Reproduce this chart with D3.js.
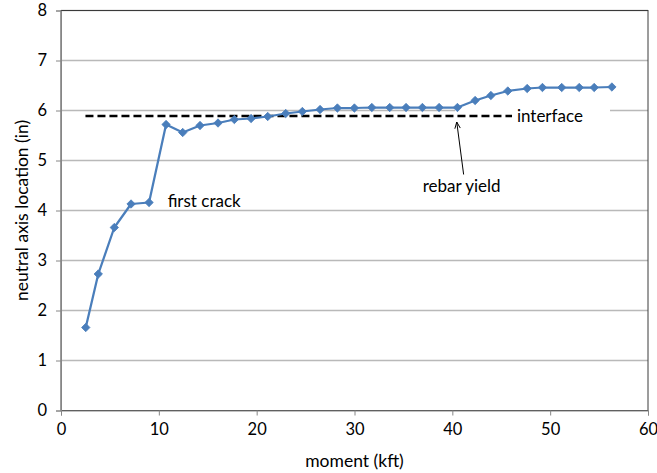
<!DOCTYPE html>
<html>
<head>
<meta charset="utf-8">
<script src="https://cdn.jsdelivr.net/npm/d3@7"></script>
<style>
  html, body { margin: 0; padding: 0; background: #fff; }
  svg { display: block; font-family: Lato, "Open Sans", sans-serif; }
</style>
</head>
<body>
<svg id="chart" width="657" height="473"></svg>
<script>
// Moment applied (kft)
const moment = [2.53, 3.81, 5.45, 7.16, 9.0, 10.74, 12.44, 14.21, 16.05, 17.72, 19.43, 21.13,
  22.97, 24.67, 26.48, 28.25, 29.99, 31.77, 33.6, 35.27, 36.94, 38.65, 40.52, 42.33, 43.94,
  45.67, 47.65, 49.21, 51.18, 52.97, 54.5, 56.31];
// Neutral axis depth (in)
const naLocation = [1.66, 2.73, 3.66, 4.13, 4.16, 5.72, 5.56, 5.70, 5.75, 5.82, 5.84, 5.88,
  5.94, 5.98, 6.02, 6.05, 6.05, 6.06, 6.06, 6.06, 6.06, 6.06, 6.06, 6.20, 6.30, 6.39,
  6.44, 6.46, 6.46, 6.46, 6.46, 6.47];
// Interface level between layers
const interfaceX = [2.5, 46.1];
const interfaceY = 5.89;
// Axis ticks
const xTicks = [0, 10, 20, 30, 40, 50, 60];
const yTicks = [0, 1, 2, 3, 4, 5, 6, 7, 8];
// Callout positions in data units
const firstCrack = { x: 10.9, y: 4.2, text: "first crack" };
const rebarYield = { x: 40.45, y: 5.85, labelX: 40.95, labelY: 4.9, text: "rebar yield" };
const interfaceLabel = { x: 46.6, y: 5.89, text: "interface" };

const svg = d3.select("#chart");
const mLeft = 61, mRight = 648, mTop = 10.5, mBottom = 410.5;

const x = d3.scaleLinear().domain([0, 60]).range([mLeft, mRight]);
const y = d3.scaleLinear().domain([0, 8]).range([mBottom, mTop]);

// Horizontal gridlines
svg.append("g")
  .selectAll("line")
  .data(yTicks.filter(d => d > 0))
  .join("line")
  .attr("x1", mLeft).attr("x2", mRight)
  .attr("y1", d => y(d)).attr("y2", d => y(d))
  .attr("stroke", "#b9b9b9").attr("stroke-width", 1.3);

// Plot area frame
svg.append("rect")
  .attr("x", mLeft).attr("y", mTop)
  .attr("width", mRight - mLeft).attr("height", mBottom - mTop)
  .attr("fill", "none").attr("stroke", "#3a3a3a").attr("stroke-width", 1);

// Axes
const xAxis = svg.append("g")
  .attr("transform", `translate(0,${mBottom})`)
  .call(d3.axisBottom(x).tickValues(xTicks).tickSize(5).tickPadding(8).tickFormat(d3.format("d")));
const yAxis = svg.append("g")
  .attr("transform", `translate(${mLeft},0)`)
  .call(d3.axisLeft(y).tickValues(yTicks).tickSize(5).tickPadding(9).tickFormat(d3.format("d")));
[xAxis, yAxis].forEach(g => {
  g.select(".domain").attr("stroke", "#868686").attr("stroke-width", 1);
  g.selectAll(".tick line").attr("stroke", "#868686");
  g.selectAll(".tick text").attr("fill", "#000").style("font-size", "16.5px")
    .style("font-family", "Lato, 'Open Sans', sans-serif");
});

// White box behind the interface label
svg.append("rect")
  .attr("x", 455).attr("y", y(interfaceY) - 12)
  .attr("width", 155).attr("height", 22)
  .attr("fill", "#fff");

// Interface dashed line
svg.append("line")
  .attr("x1", x(interfaceX[0])).attr("x2", x(interfaceX[1]))
  .attr("y1", y(interfaceY)).attr("y2", y(interfaceY))
  .attr("stroke", "#000").attr("stroke-width", 2.5)
  .attr("stroke-dasharray", "8,4");

svg.append("text")
  .attr("x", x(interfaceLabel.x)).attr("y", y(interfaceLabel.y) + 6)
  .style("font-size", "17px").text(interfaceLabel.text);

// Data series
const pts = moment.map((m, i) => [m, naLocation[i]]);
svg.append("path")
  .datum(pts)
  .attr("d", d3.line().x(d => x(d[0])).y(d => y(d[1])))
  .attr("fill", "none").attr("stroke", "#4a7ebb").attr("stroke-width", 2.25)
  .attr("stroke-linejoin", "round");

svg.append("g")
  .selectAll("path")
  .data(pts)
  .join("path")
  .attr("transform", d => `translate(${x(d[0])},${y(d[1])})`)
  .attr("d", "M0,-4.2L4.2,0L0,4.2L-4.2,0Z")
  .attr("fill", "#4a7ebb").attr("stroke", "#4a7ebb").attr("stroke-width", 0.8);

// Callouts
svg.append("text")
  .attr("x", x(firstCrack.x)).attr("y", y(firstCrack.y) + 6)
  .style("font-size", "17px").text(firstCrack.text);

const ax0 = x(rebarYield.labelX) + 2, ay0 = y(rebarYield.labelY) + 9;
const ax1 = x(rebarYield.x), ay1 = y(rebarYield.y) + 4;
svg.append("line")
  .attr("x1", ax0).attr("y1", ay0).attr("x2", ax1).attr("y2", ay1)
  .attr("stroke", "#000").attr("stroke-width", 1);
const ang = Math.atan2(ay0 - ay1, ax0 - ax1);
const hl = 7, spread = 0.4;
svg.append("path")
  .attr("d", `M${ax1 + hl * Math.cos(ang - spread)},${ay1 + hl * Math.sin(ang - spread)}L${ax1},${ay1}L${ax1 + hl * Math.cos(ang + spread)},${ay1 + hl * Math.sin(ang + spread)}`)
  .attr("fill", "none").attr("stroke", "#000").attr("stroke-width", 1);

svg.append("text")
  .attr("x", x(rebarYield.labelX)).attr("y", y(rebarYield.labelY) + 26)
  .attr("text-anchor", "middle")
  .style("font-size", "17px").text(rebarYield.text);

// Axis titles
svg.append("text")
  .attr("x", (mLeft + mRight) / 2).attr("y", 467)
  .attr("text-anchor", "middle")
  .style("font-size", "17.5px").text("moment (kft)");
svg.append("text")
  .attr("transform", `translate(28,${(mTop + mBottom) / 2}) rotate(-90)`)
  .attr("text-anchor", "middle")
  .style("font-size", "17.5px").text("neutral axis location (in)");
</script>
</body>
</html>
